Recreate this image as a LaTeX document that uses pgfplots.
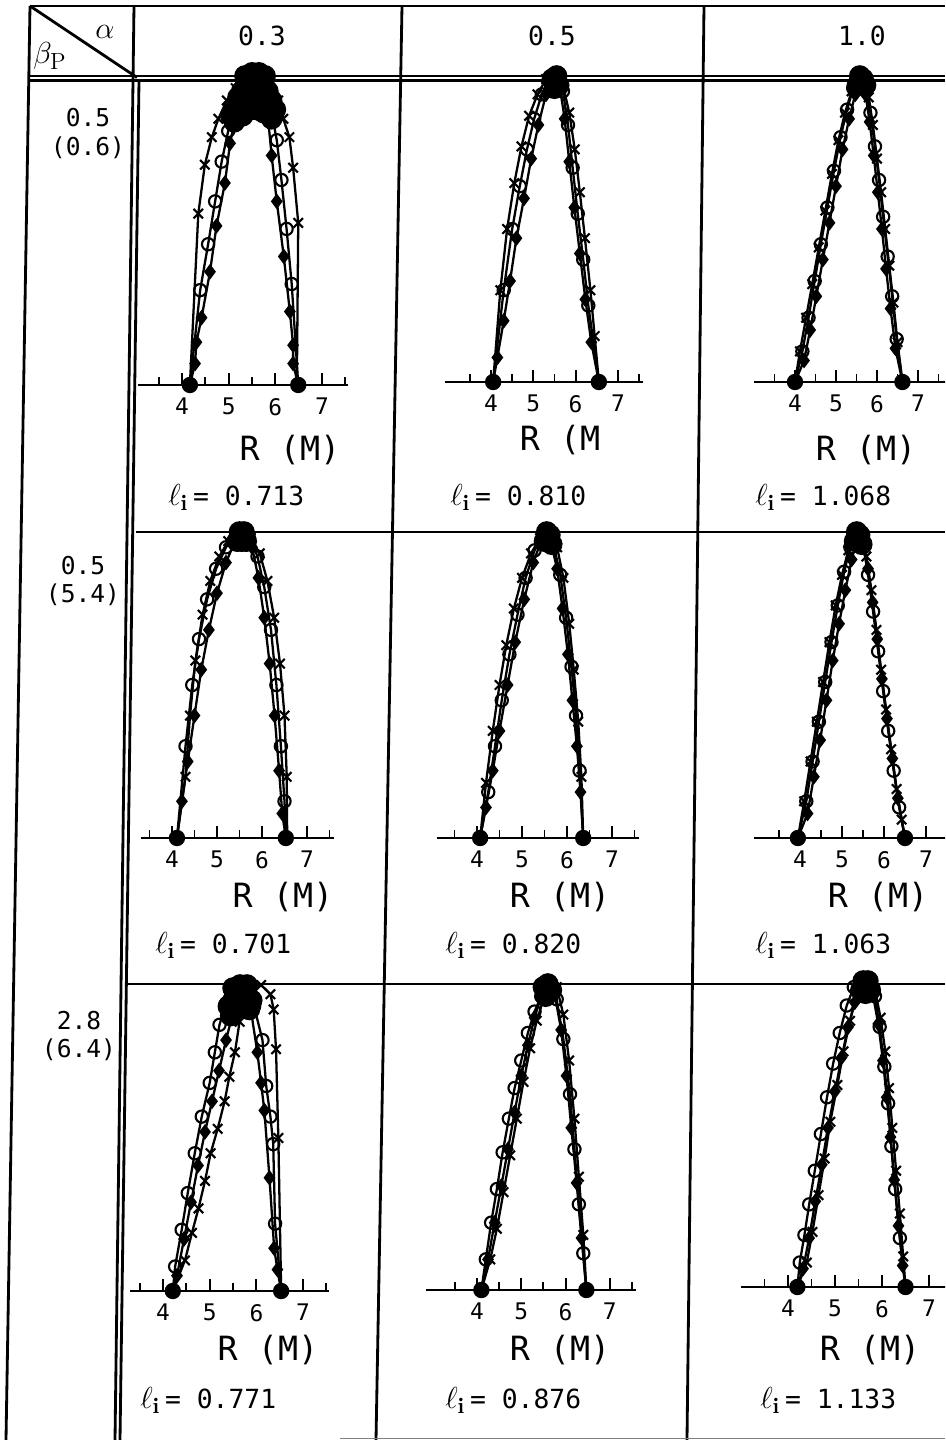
\documentclass[border=0pt]{standalone}
\usepackage{fontspec}
\usepackage{pgfplots}
\pgfplotsset{compat=1.18}
\newfontfamily\mono{DejaVu Sans Mono}
\newcommand\fs[1]{\fontsize{#1}{#1}\selectfont}

\pgfplotsset{
  panel/.style={
    scale only axis, height=6.12cm, ymin=0, ymax=1,
    axis x line*=bottom, axis y line=none,
    xtick={4,5,6,7}, minor xtick={3.5,4.5,5.5,6.5,7.5},
    xtick align=inside, major tick length=0.24cm, minor tick length=0.16cm,
    every tick/.style={black, line width=1.1pt},
    x axis line style={line width=1.4pt},
    xticklabel style={font=\mono\fs{13}, yshift=-4pt},
    /pgf/number format/assume math mode=true,
    clip=false,
    every axis plot/.append style={black, line width=1.3pt},
  },
  sx/.style={mark=x, mark size=3.8pt, mark options={line width=1.2pt}},
  so/.style={mark=o, mark size=3.5pt, mark options={fill=white, line width=1.2pt}},
  sd/.style={mark=diamond*, mark size=3.4pt, mark options={fill=black}},
  sb/.style={only marks, mark=*, mark size=5.5pt},
  se/.style={only marks, mark=*, mark size=4pt},
}

% one R-profile panel: #1 axis placement, #2 crosses, #3 circles, #4 diamonds,
% #5 overlapping marks at the peak, #6 boundary points
\newcommand\panel[6]{%
  \begin{axis}[panel,#1]
    \addplot[sx] coordinates {#2};
    \addplot[so] coordinates {#3};
    \addplot[sd] coordinates {#4};
    \addplot[sb] coordinates {#5};
    \addplot[se] coordinates {#6};
  \end{axis}}

\newcommand\li[2]{\node[anchor=base west, inner sep=0pt] at (#1) {\fs{18}$\ell_{\mathbf{i}}$\,{\mono\fs{15}= #2}};}
\newcommand\rowlab[3]{\node[align=center, inner sep=0pt, font=\mono\fs{14}] at (#1) {#2\\[2pt]#3};}
\newcommand\rlab[2]{\node[inner sep=0pt] at (#1) {\mono\fs{19}#2};}

\begin{document}
\begin{tikzpicture}
\useasboundingbox (0,0) rectangle (18.9,28.8);
\clip (0,0) rectangle (18.9,28.8);

% ---- table rules
\begin{scope}[line width=1.6pt]
  \draw (0.6,28.68) -- (18.9,28.68);
  \draw (0.6,27.28) -- (18.9,27.28);
  \draw (0.6,27.19) -- (18.9,27.19);
  \draw (2.72,18.16) -- (18.9,18.16);
  \draw (2.55,9.12) -- (18.9,9.12);
  \draw (0.6,28.68) -- (0.12,0);
  \draw (2.68,28.68) -- (2.30,0);
  \draw (2.78,27.19) -- (2.40,0);
  \draw (8.04,28.68) -- (7.52,0);
  \draw (14.08,28.68) -- (13.74,0);
  \draw (0.6,28.68) -- (2.74,27.25);
\end{scope}
\draw[gray, line width=0.8pt] (6.8,0.03) -- (18.9,0.03);

% ---- headings
\node at (2.1,28.16) {\fs{18}$\alpha$};
\node[anchor=west, inner sep=0pt] at (0.66,27.68) {\fs{19}$\beta_{\mathrm{P}}$};
\node at (5.24,28.08) {\mono\fs{15}0.3};
\node at (11.04,28.08) {\mono\fs{15}0.5};
\node at (17.24,28.08) {\mono\fs{15}1.0};

\rowlab{1.76,26.13}{0.5}{(0.6)}
\rowlab{1.66,17.18}{0.5}{(5.4)}
\rowlab{1.58,8.08}{2.8}{(6.4)}

% ---- row 1
\panel{at={(2.752cm,21.10cm)}, anchor=south west, xmin=3.05, xmax=7.55, width=4.203cm}
{(4.17,0)(4.35,0.56)(4.49,0.72)(4.64,0.81)(4.78,0.87)(4.96,0.93)(5.15,0.97)(5.35,0.99)(5.55,1.0)(5.75,0.99)(5.92,0.96)(6.06,0.93)(6.17,0.87)(6.30,0.81)(6.38,0.71)(6.49,0.53)(6.46,0)}
{(4.17,0)(4.39,0.31)(4.56,0.46)(4.71,0.60)(4.85,0.73)(4.99,0.83)(5.12,0.90)(5.25,0.95)(5.45,0.99)(5.65,0.99)(5.8,0.95)(5.92,0.89)(6.03,0.80)(6.13,0.67)(6.24,0.51)(6.35,0.33)(6.49,0)}
{(4.17,0)(4.28,0.07)(4.31,0.14)(4.42,0.22)(4.60,0.37)(4.74,0.52)(4.92,0.66)(5.03,0.79)(5.15,0.88)(5.3,0.94)(5.5,0.97)(5.7,0.95)(5.85,0.86)(5.92,0.75)(6.03,0.60)(6.18,0.42)(6.31,0.24)(6.38,0.13)(6.38,0.07)(6.49,0)}
{(5.05,0.88)(5.12,0.91)(5.2,0.94)(5.28,0.96)(5.36,0.98)(5.44,1.0)(5.52,1.0)(5.6,1.0)(5.68,1.0)(5.76,0.98)(5.84,0.96)(5.92,0.93)(6.0,0.9)(5.12,0.86)(5.22,0.89)(5.32,0.92)(5.42,0.94)(5.52,0.95)(5.62,0.95)(5.72,0.94)(5.82,0.91)(5.92,0.87)(5.35,1.01)(5.5,1.02)(5.65,1.02)(5.78,1.01)(5.3,0.88)(5.45,0.9)(5.6,0.9)(5.75,0.89)}
{(4.17,0)(6.49,0)}

\panel{at={(8.89cm,21.16cm)}, anchor=south west, xmin=2.9, xmax=7.6, width=3.976cm}
{(4.05,0)(4.22,0.3)(4.38,0.5)(4.55,0.65)(4.72,0.77)(4.9,0.87)(5.1,0.94)(5.3,0.99)(5.5,1.0)(5.7,0.97)(5.85,0.88)(5.98,0.76)(6.1,0.62)(6.22,0.47)(6.35,0.3)(6.45,0.15)(6.55,0)}
{(4.05,0)(4.3,0.3)(4.5,0.5)(4.68,0.64)(4.85,0.76)(5.02,0.86)(5.2,0.94)(5.4,0.99)(5.55,1.0)(5.7,0.95)(5.82,0.84)(5.93,0.7)(6.05,0.55)(6.18,0.4)(6.3,0.25)(6.55,0)}
{(4.05,0)(4.15,0.08)(4.3,0.2)(4.45,0.33)(4.6,0.47)(4.78,0.6)(4.95,0.73)(5.12,0.84)(5.3,0.94)(5.45,1.0)(5.62,0.97)(5.74,0.86)(5.85,0.72)(5.97,0.57)(6.1,0.42)(6.23,0.27)(6.37,0.13)(6.55,0)}
{(5.45,0.99)(5.55,1.0)(5.5,0.96)(5.6,0.97)}
{(4.05,0)(6.55,0)}

\panel{at={(15.08cm,21.16cm)}, anchor=south west, xmin=3.0, xmax=8.0, width=4.1cm}
{(4.0,0)(4.12,0.1)(4.27,0.21)(4.42,0.32)(4.58,0.44)(4.74,0.56)(4.9,0.68)(5.06,0.79)(5.22,0.88)(5.38,0.95)(5.52,0.99)(5.68,0.99)(5.8,0.93)(5.9,0.84)(6.0,0.73)(6.1,0.62)(6.2,0.5)(6.3,0.38)(6.4,0.26)(6.5,0.13)(6.62,0)}
{(4.0,0)(4.18,0.1)(4.33,0.21)(4.48,0.33)(4.63,0.45)(4.79,0.57)(4.95,0.69)(5.11,0.8)(5.27,0.89)(5.42,0.96)(5.58,1.0)(5.72,0.96)(5.84,0.88)(5.95,0.77)(6.05,0.66)(6.15,0.54)(6.26,0.41)(6.37,0.28)(6.48,0.14)(6.62,0)}
{(4.0,0)(4.22,0.07)(4.37,0.17)(4.52,0.28)(4.68,0.4)(4.84,0.52)(5.0,0.64)(5.16,0.76)(5.32,0.86)(5.47,0.94)(5.6,0.99)(5.72,0.94)(5.82,0.85)(5.92,0.74)(6.02,0.62)(6.12,0.5)(6.22,0.37)(6.33,0.24)(6.45,0.11)(6.62,0)}
{(5.58,1.0)(5.66,0.99)(5.52,0.97)(5.72,0.97)}
{(4.0,0)(6.62,0)}

% ---- row 2
\panel{at={(2.81cm,12.04cm)}, anchor=south west, xmin=3.3, xmax=7.6, width=3.87cm}
{(4.11,0)(4.3,0.2)(4.4,0.4)(4.52,0.58)(4.68,0.73)(4.85,0.84)(5.05,0.92)(5.25,0.97)(5.5,1.0)(5.75,0.98)(5.95,0.93)(6.12,0.84)(6.27,0.72)(6.4,0.57)(6.5,0.4)(6.55,0.2)(6.56,0)}
{(4.11,0)(4.3,0.3)(4.45,0.5)(4.6,0.65)(4.78,0.78)(4.98,0.88)(5.2,0.95)(5.45,1.0)(5.7,0.99)(5.9,0.92)(6.05,0.82)(6.2,0.68)(6.32,0.5)(6.42,0.3)(6.5,0.12)(6.53,0)}
{(4.11,0)(4.22,0.12)(4.35,0.25)(4.5,0.4)(4.65,0.55)(4.82,0.68)(5.0,0.8)(5.2,0.9)(5.4,0.97)(5.6,1.0)(5.78,0.95)(5.92,0.85)(6.05,0.72)(6.17,0.57)(6.28,0.4)(6.38,0.22)(6.45,0.08)(6.53,0)}
{(5.5,1.0)(5.6,1.0)(5.55,0.97)(5.45,0.97)(5.65,0.97)}
{(4.11,0)(6.53,0)}

\panel{at={(8.73cm,12.04cm)}, anchor=south west, xmin=3.1, xmax=7.6, width=4.05cm}
{(4.07,0)(4.2,0.18)(4.35,0.35)(4.5,0.5)(4.65,0.63)(4.82,0.75)(5.0,0.85)(5.2,0.93)(5.4,0.98)(5.6,1.0)(5.78,0.95)(5.92,0.85)(6.05,0.7)(6.15,0.55)(6.25,0.38)(6.32,0.2)(6.36,0)}
{(4.07,0)(4.25,0.15)(4.4,0.3)(4.55,0.45)(4.72,0.6)(4.9,0.73)(5.08,0.85)(5.28,0.94)(5.5,1.0)(5.7,0.96)(5.85,0.86)(5.98,0.72)(6.1,0.56)(6.2,0.4)(6.28,0.22)(6.36,0)}
{(4.07,0)(4.2,0.1)(4.35,0.22)(4.5,0.35)(4.68,0.5)(4.85,0.64)(5.05,0.78)(5.25,0.9)(5.45,0.98)(5.62,0.98)(5.78,0.88)(5.9,0.75)(6.02,0.6)(6.12,0.45)(6.22,0.3)(6.3,0.15)(6.36,0)}
{(5.55,1.0)(5.62,0.99)(5.5,0.97)(5.66,0.96)}
{(4.07,0)(6.36,0)}

\panel{at={(15.076cm,12.04cm)}, anchor=south west, xmin=2.9, xmax=7.9, width=4.2cm}
{(3.95,0)(4.1,0.12)(4.25,0.25)(4.4,0.38)(4.55,0.51)(4.7,0.64)(4.85,0.76)(5.0,0.86)(5.15,0.94)(5.3,0.99)(5.45,0.99)(5.58,0.92)(5.7,0.81)(5.82,0.68)(5.93,0.55)(6.05,0.42)(6.17,0.29)(6.3,0.16)(6.42,0.06)(6.5,0)}
{(3.95,0)(4.15,0.12)(4.3,0.25)(4.45,0.38)(4.6,0.51)(4.75,0.64)(4.9,0.76)(5.05,0.87)(5.2,0.95)(5.35,1.0)(5.5,0.96)(5.62,0.86)(5.74,0.74)(5.86,0.61)(5.98,0.48)(6.1,0.35)(6.23,0.22)(6.36,0.1)(6.5,0)}
{(3.95,0)(4.18,0.08)(4.33,0.2)(4.48,0.32)(4.63,0.45)(4.78,0.58)(4.93,0.7)(5.08,0.81)(5.23,0.91)(5.37,0.98)(5.5,0.97)(5.62,0.88)(5.73,0.77)(5.84,0.65)(5.95,0.52)(6.07,0.39)(6.2,0.26)(6.33,0.13)(6.5,0)}
{(5.35,1.0)(5.42,0.99)(5.3,0.97)(5.47,0.96)}
{(3.95,0)(6.5,0)}

% ---- row 3
\panel{at={(2.606cm,2.98cm)}, anchor=south west, xmin=3.3, xmax=7.55, width=3.97cm}
{(4.21,0)(4.47,0.1)(4.62,0.19)(4.76,0.27)(4.9,0.36)(5.02,0.45)(5.17,0.53)(5.32,0.62)(5.42,0.7)(5.54,0.78)(5.64,0.88)(5.75,0.95)(5.9,0.99)(6.1,1.0)(6.3,0.97)(6.37,0.92)(6.42,0.79)(6.47,0.5)(6.53,0)}
{(4.21,0)(4.26,0.08)(4.4,0.2)(4.53,0.32)(4.68,0.45)(4.83,0.57)(5.0,0.68)(5.11,0.78)(5.21,0.87)(5.35,0.94)(5.5,0.98)(5.7,1.0)(5.95,0.93)(6.13,0.82)(6.21,0.67)(6.3,0.57)(6.36,0.48)(6.4,0.22)(6.53,0)}
{(4.21,0)(4.3,0.05)(4.45,0.17)(4.6,0.29)(4.75,0.41)(4.9,0.52)(5.05,0.62)(5.2,0.72)(5.35,0.82)(5.5,0.91)(5.65,0.97)(5.85,0.95)(6.02,0.78)(6.1,0.68)(6.17,0.59)(6.28,0.37)(6.38,0.14)(6.45,0.07)(6.53,0)}
{(5.4,0.93)(5.5,0.95)(5.6,0.97)(5.7,0.98)(5.8,0.97)(5.9,0.95)(5.5,0.99)(5.65,1.0)(5.45,0.9)(5.55,0.92)(5.65,0.93)(5.75,0.93)(5.85,0.92)(5.8,1.0)}
{(4.21,0)(6.53,0)}

\panel{at={(8.52cm,3.0cm)}, anchor=south west, xmin=2.85, xmax=7.6, width=4.209cm}
{(4.1,0)(4.3,0.1)(4.45,0.2)(4.6,0.32)(4.75,0.44)(4.9,0.56)(5.05,0.68)(5.2,0.79)(5.35,0.88)(5.5,0.95)(5.65,1.0)(5.8,0.99)(5.95,0.9)(6.08,0.75)(6.2,0.56)(6.3,0.37)(6.4,0.18)(6.47,0)}
{(4.1,0)(4.2,0.1)(4.32,0.22)(4.45,0.33)(4.58,0.45)(4.72,0.56)(4.85,0.66)(5.0,0.75)(5.15,0.84)(5.3,0.91)(5.45,0.96)(5.6,1.0)(5.8,0.95)(5.95,0.82)(6.1,0.64)(6.2,0.46)(6.3,0.28)(6.4,0.12)(6.47,0)}
{(4.1,0)(4.25,0.1)(4.4,0.22)(4.55,0.34)(4.7,0.46)(4.85,0.58)(5.0,0.7)(5.15,0.8)(5.3,0.89)(5.45,0.96)(5.6,1.0)(5.75,0.97)(5.9,0.85)(6.02,0.7)(6.13,0.53)(6.25,0.35)(6.36,0.17)(6.47,0)}
{(5.6,1.0)(5.68,0.98)(5.55,0.96)(5.5,0.99)}
{(4.1,0)(6.47,0)}

\panel{at={(14.82cm,3.06cm)}, anchor=south west, xmin=3.0, xmax=7.9, width=4.606cm}
{(4.2,0)(4.4,0.08)(4.52,0.18)(4.65,0.3)(4.78,0.42)(4.9,0.54)(5.05,0.66)(5.18,0.77)(5.32,0.87)(5.45,0.95)(5.6,1.0)(5.85,0.97)(5.97,0.88)(6.07,0.77)(6.15,0.65)(6.22,0.52)(6.3,0.38)(6.38,0.24)(6.45,0.1)(6.5,0)}
{(4.2,0)(4.25,0.08)(4.35,0.17)(4.45,0.27)(4.57,0.38)(4.7,0.5)(4.83,0.62)(4.96,0.73)(5.1,0.83)(5.25,0.92)(5.4,0.98)(5.6,1.0)(5.85,0.95)(5.95,0.85)(6.05,0.72)(6.13,0.6)(6.2,0.46)(6.28,0.32)(6.38,0.16)(6.5,0)}
{(4.2,0)(4.32,0.06)(4.45,0.16)(4.58,0.28)(4.72,0.4)(4.85,0.52)(5.0,0.64)(5.14,0.75)(5.28,0.85)(5.42,0.93)(5.58,0.99)(5.8,0.96)(5.92,0.86)(6.02,0.74)(6.1,0.62)(6.18,0.49)(6.26,0.35)(6.35,0.2)(6.44,0.07)(6.5,0)}
{(5.6,1.0)(5.7,1.0)(5.65,0.96)(5.75,0.97)(5.55,0.97)}
{(4.2,0)(6.5,0)}

% ---- axis titles and internal inductances
\rlab{5.80,19.80}{R (M)}
\rlab{11.20,20.00}{R (M}
\rlab{17.32,19.80}{R (M)}
\rlab{5.66,10.86}{R (M)}
\rlab{11.20,10.86}{R (M)}
\rlab{17.56,10.86}{R (M)}
\rlab{5.36,1.80}{R (M)}
\rlab{11.20,1.80}{R (M)}
\rlab{17.40,1.80}{R (M)}

\li{3.36,18.68}{0.713}
\li{9.00,18.68}{0.810}
\li{15.10,18.68}{1.068}
\li{3.10,9.72}{0.701}
\li{8.90,9.72}{0.820}
\li{15.10,9.72}{1.063}
\li{2.80,0.62}{0.771}
\li{8.90,0.62}{0.876}
\li{15.20,0.62}{1.133}
\end{tikzpicture}
\end{document}
